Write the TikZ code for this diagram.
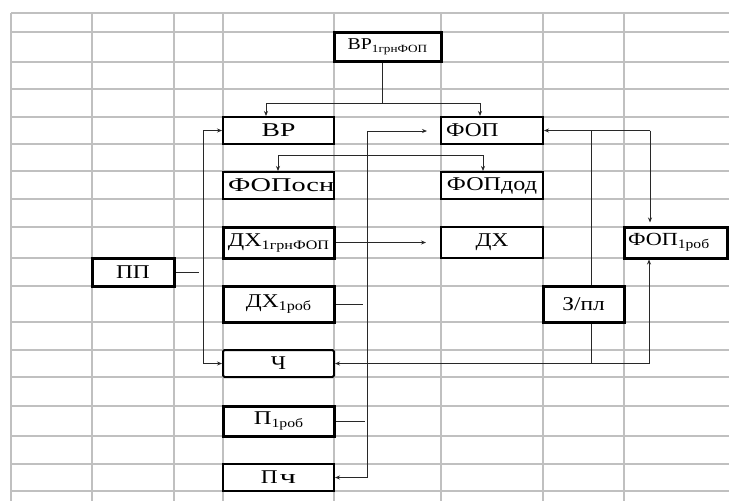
\documentclass[tikz,border=0pt]{standalone}
\usepackage{fontspec}
\setmainfont[FakeStretch=1.2]{Liberation Serif}
\usetikzlibrary{arrows.meta}
\definecolor{gridgray}{RGB}{192,192,192}
\definecolor{linkgray}{RGB}{40,40,40}
% lowered index text
\newcommand\lowidx[2][13]{\raisebox{-3pt}{\fontsize{#1}{#1}\selectfont #2}}
\newcommand\fs[1]{\fontsize{#1}{#1}\selectfont}
\newcommand\wider[2]{\scalebox{#1}[1]{#2}}

\begin{document}
\begin{tikzpicture}[x=1pt,y=-1pt,
  cell/.style={draw=gridgray, line width=2pt},
  box/.style={draw=black, fill=white, line width=2pt, inner sep=0pt,
    align=center, font=\fs{19.5}},
  heavy/.style={box, line width=3pt},
  wide/.style={minimum width=111pt},
  mid/.style={minimum width=102pt},
  link/.style={draw=linkgray, line width=1pt},
  tip/.style={-{Stealth[length=5pt,width=4pt]}},
  tips/.style={{Stealth[length=5pt,width=4pt]}-{Stealth[length=5pt,width=4pt]}},
]
\useasboundingbox (0,0) rectangle (729,501);
\fill[white] (0,0) rectangle (729,501);

% spreadsheet grid
\foreach \y in {13,32,62,89,117,144,171,199,227,258,286,322,350,377,406,436,464,491}
  \draw[cell] (11,\y) -- (729,\y);
\foreach \x in {11,92,174,223,334,441,543,624}
  \draw[cell] (\x,13) -- (\x,501);

% boxes
\node[heavy, minimum width=107pt, minimum height=29pt] (vrg) at (387.5,46.5)
  {\fs{16.5}ВР\lowidx[11]{1грнФОП}};
\node[box, wide, minimum height=27pt] (vr) at (278.5,130.5) {\wider{1.18}{ВР}};
\node[box, minimum height=27pt, text width=92pt, inner xsep=5pt, align=left] (fop) at (492,130.5) {ФОП};
\node[box, minimum height=27pt, text width=101pt, inner xsep=5pt, align=left] (fopo) at (278.5,185.5) {\wider{1.21}{ФОПосн}};
\node[box, mid, minimum height=27pt] (fopd) at (492,185.5) {\wider{1.03}{ФОПдод}};
\node[heavy, wide, minimum height=31pt] (dhg) at (278.5,242.5) {\wider{1.03}{ДХ\lowidx{1грнФОП}}};
\node[box, mid, minimum height=31pt] (dh) at (492,242.5) {ДХ};
\node[heavy, minimum height=31pt, text width=95pt, inner xsep=4pt, align=left] (fopr) at (675.5,242.5)
  {\fs{18.5}ФОП\lowidx{1роб}};
\node[heavy, minimum width=82pt, minimum height=28pt] (pp) at (133,272) {ПП};
\node[heavy, wide, minimum height=36pt] (dhr) at (278.5,304) {\raisebox{-4pt}{ДХ\lowidx[13.5]{1роб}}};
\node[heavy, minimum width=81pt, minimum height=36pt] (zpl) at (583.5,304) {\raisebox{-4pt}{З/пл}};
\node[box, wide, minimum height=27pt, rounded corners=1.5pt] (ch) at (278.5,363.5) {Ч};
\node[heavy, wide, minimum height=30pt] (pr) at (278.5,421) {\wider{1.05}{П\lowidx[12.5]{1роб}}};
\node[box, wide, minimum height=27pt] (pch) at (278.5,477.5) {П\hspace{2pt}\wider{1.4}{ч}};

% junction points of the connectors
\coordinate (tj) at (382,103);
\coordinate (tl) at (266,103);
\coordinate (tr) at (480,103);
\coordinate (lb) at (203,0);
\coordinate (ppend) at (199,272);
\coordinate (mv) at (367,0);
\coordinate (fopin) at (427,131);
\coordinate (dhin) at (426,242.5);
\coordinate (dhrend) at (363,304);
\coordinate (prend) at (365,421);
\coordinate (sl) at (278,155);
\coordinate (sr) at (483,155);
\coordinate (rt) at (650,130.5);
\coordinate (zv) at (591,0);
\coordinate (rb) at (649,363.5);

% top distribution
\draw[link] (vrg.south -| tj) -- (tj);
\draw[link] (tl) -- (tr);
\draw[link, tip] (tl) -- (tl |- vr.north);
\draw[link, tip] (tr) -- (tr |- fop.north);

% left bracket
\draw[link] (pp.east) -- (ppend);
\draw[link, tips] (vr.west) -- (lb |- vr.west) -- (lb |- ch.west) -- (ch.west);

% middle collector
\draw[link, tips] (fopin) -- (mv |- fopin) -- (mv |- pch.east) -- (pch.east);
\draw[link] (dhr.east) -- (dhrend);
\draw[link] (pr.east) -- (prend);
\draw[link, tip] (dhg.east) -- (dhin);

% split below ФОП
\draw[link, tips] (sl |- fopo.north) -- (sl) -- (sr) -- (sr |- fopd.north);

% right loop
\draw[link, tip] (rt) -- (fop.east);
\draw[link, tip] (rt) -- ([yshift=3pt]rt |- fopr.north);
\draw[link] (zv |- zpl.north) -- (zv |- rt);
\draw[link] (zv |- zpl.south) -- (zv |- rb);
\draw[link, tips] (ch.east) -- (rb) -- (rb |- fopr.south);
\end{tikzpicture}
\end{document}
